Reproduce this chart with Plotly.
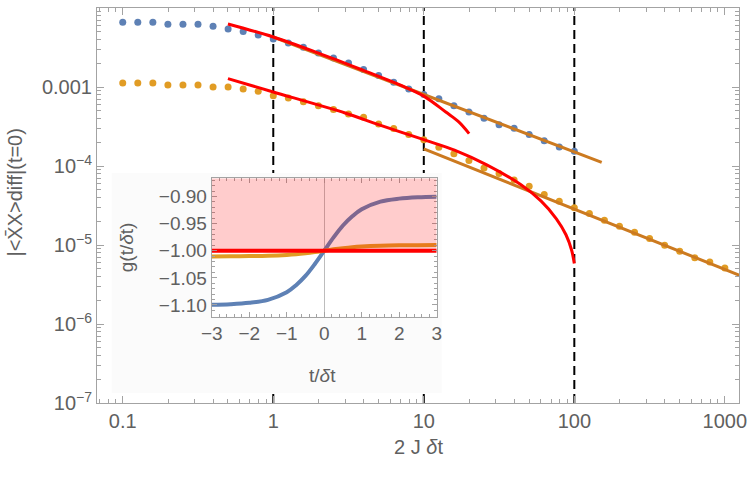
import plotly.graph_objects as go

# ---------------- data ----------------
t_grid = [0.1, 0.1259, 0.1585, 0.1995, 0.2512, 0.3162, 0.3981, 0.5012, 0.6310, 0.7943,
          1.0, 1.259, 1.585, 1.995, 2.512, 3.162, 3.981, 5.012, 6.310, 7.943,
          10.0, 12.59, 15.85, 19.95, 25.12, 31.62, 39.81, 50.12, 63.10, 79.43,
          100.0, 125.9, 158.5, 199.5, 251.2, 316.2, 398.1, 501.2, 631.0, 794.3, 1000.0]

blue_vals = [0.00661, 0.00661, 0.00661, 0.00624, 0.00624, 0.00624, 0.00589, 0.00546, 0.00508, 0.00458,
             0.00407, 0.00362, 0.00319, 0.00271, 0.00234, 0.00202, 0.00167, 0.00140, 0.00115, 0.000948,
             0.000804, 0.000710, 0.000583, 0.000485, 0.000403, 0.000335, 0.000301, 0.000251, 0.000210,
             0.000174, 0.000154]

orange_vals = [0.00113, 0.00113, 0.00113, 0.001066, 0.001066, 0.001066, 0.001006, 0.001006, 0.000948,
               0.000885, 0.000780, 0.000729, 0.000655, 0.000583, 0.000519, 0.000458, 0.000415, 0.000342,
               0.000299, 0.000251, 0.000216, 0.000173, 0.000143, 0.000118, 9.48e-5, 8.03e-5, 6.68e-5,
               5.55e-5, 4.36e-5, 3.58e-5, 2.96e-5, 2.51e-5, 2.06e-5, 1.73e-5, 1.45e-5, 1.21e-5,
               9.93e-6, 8.35e-6, 6.89e-6, 6.12e-6, 5.14e-6]

# short-time (red) curves
red_upper_x = [0.5, 1, 2, 4, 7, 10, 14, 17, 20]
red_upper_y = [0.00631, 0.004315, 0.002692, 0.001618, 0.001059, 0.000769, 0.000483, 0.000366, 0.000258]
red_lower_x = [0.5, 1, 3, 5, 10, 16, 26, 44, 60, 76, 88, 96, 100]
red_lower_y = [0.001282, 0.000869, 0.000471, 0.000335, 0.000216, 0.0001596, 0.0001045, 5.83e-5,
               3.62e-5, 2.15e-5, 1.35e-5, 8.6e-6, 5.83e-6]

# long-time power-law (brown) lines
brown_upper_x = [1, 152]
brown_upper_y = [0.004315, 0.0001117]
brown_lower_x = [10, 1300]
brown_lower_y = [0.0001652, 4.03e-6]

# vertical markers
vlines = [1, 10, 100]

# inset g(t/dt)
g_t = [-3, -2.5, -2, -1.5, -1, -0.75, -0.5, -0.25, 0, 0.25, 0.5, 0.75, 1, 1.5, 2, 2.5, 3]
g_blue = [-1.0995, -1.0985, -1.0960, -1.0905, -1.0765, -1.0635, -1.0465, -1.0245, -1.0,
          -0.9755, -0.9535, -0.9365, -0.9235, -0.9095, -0.9040, -0.9015, -0.9005]
g_orange = [-1.0105, -1.0103, -1.0099, -1.0092, -1.0078, -1.0066, -1.0048, -1.0026, -1.0,
            -0.9974, -0.9952, -0.9934, -0.9922, -0.9908, -0.9901, -0.9898, -0.9896]
g_red_t = [-3, 3]
g_red = [-1.0, -1.0]

# tick labels
x_tickvals = [0.1, 1, 10, 100, 1000]
x_ticktext = ['0.1', '1', '10', '100', '1000']
y_tickvals = [1e-7, 1e-6, 1e-5, 1e-4, 1e-3]
y_ticktext = ['10<sup>\u22127</sup>', '10<sup>\u22126</sup>', '10<sup>\u22125</sup>',
              '10<sup>\u22124</sup>', '0.001']
ix_tickvals = [-3, -2, -1, 0, 1, 2, 3]
ix_ticktext = ['\u22123', '\u22122', '\u22121', '0', '1', '2', '3']
iy_tickvals = [-1.10, -1.05, -1.00, -0.95, -0.90]
iy_ticktext = ['\u22121.10', '\u22121.05', '\u22121.00', '\u22120.95', '\u22120.90']

# ---------------- style ----------------
BLUE = '#5E81B5'
ORANGE = '#E19C24'
BROWN = 'rgb(204,122,32)'
RED = '#FF0000'
FRAME = '#a3a3a3'
TXT = '#606060'
FONT = 'Liberation Sans'

minor_x = [m * 10 ** e for e in range(-2, 4) for m in range(2, 10)]
minor_y = [m * 10 ** e for e in range(-8, -1) for m in range(2, 10)]

fig = go.Figure()

fig.add_trace(go.Scatter(x=t_grid[:len(blue_vals)], y=blue_vals, mode='markers',
                         marker=dict(color=BLUE, size=7), xaxis='x', yaxis='y'))
fig.add_trace(go.Scatter(x=t_grid[:len(orange_vals)], y=orange_vals, mode='markers',
                         marker=dict(color=ORANGE, size=7), xaxis='x', yaxis='y'))
fig.add_trace(go.Scatter(x=brown_upper_x, y=brown_upper_y, mode='lines',
                         line=dict(color=BROWN, width=3), xaxis='x', yaxis='y'))
fig.add_trace(go.Scatter(x=brown_lower_x, y=brown_lower_y, mode='lines',
                         line=dict(color=BROWN, width=3), xaxis='x', yaxis='y'))
fig.add_trace(go.Scatter(x=red_upper_x, y=red_upper_y, mode='lines',
                         line=dict(color=RED, width=3, shape='spline', smoothing=1.0), xaxis='x', yaxis='y'))
fig.add_trace(go.Scatter(x=red_lower_x, y=red_lower_y, mode='lines',
                         line=dict(color=RED, width=3, shape='spline', smoothing=0.8), xaxis='x', yaxis='y'))

# inset traces
fig.add_trace(go.Scatter(x=g_t, y=g_blue, mode='lines',
                         line=dict(color=BLUE, width=4, shape='spline'), xaxis='x2', yaxis='y2'))
fig.add_trace(go.Scatter(x=g_t, y=g_orange, mode='lines',
                         line=dict(color=ORANGE, width=4, shape='spline'), xaxis='x2', yaxis='y2'))
fig.add_trace(go.Scatter(x=g_red_t, y=g_red, mode='lines',
                         line=dict(color=RED, width=4), xaxis='x2', yaxis='y2'))

shapes = []
for v in vlines:
    shapes.append(dict(type='line', xref='x', yref='paper', x0=v, x1=v, y0=0, y1=1,
                       line=dict(color='black', width=2, dash='9px,5px'), layer='below'))
# inset background box (covers the dashed lines)
shapes.append(dict(type='rect', xref='paper', yref='paper', x0=0.0229, x1=0.537, y0=0.0253, y1=0.582,
                   fillcolor='#fbfbfb', line=dict(width=0), layer='below'))
# pink filling above g = -1
shapes.append(dict(type='rect', xref='x2', yref='y2', x0=-3, x1=3, y0=-1.0, y1=-0.8665,
                   fillcolor='rgba(255,0,0,0.2)', line=dict(width=0), layer='above'))

axis_common = dict(showline=True, linecolor=FRAME, linewidth=1, mirror='ticks', ticks='inside',
                   tickcolor=FRAME, showgrid=False, zeroline=False, automargin=False)

fig.update_layout(
    width=750, height=480,
    margin=dict(l=97, r=11, t=8, b=77),
    paper_bgcolor='white', plot_bgcolor='white',
    showlegend=False,
    font=dict(family=FONT, color=TXT, size=20),
    xaxis=dict(type='log', range=[-1.171, 3.094], domain=[0, 1], anchor='y',
               tickmode='array', tickvals=x_tickvals, ticktext=x_ticktext, ticklen=7,
               tickfont=dict(size=20, color=TXT),
               minor=dict(tickmode='array', tickvals=minor_x, ticks='inside', ticklen=4, tickcolor=FRAME),
               **axis_common),
    yaxis=dict(type='log', range=[-7.0, -1.998], domain=[0, 1], anchor='x',
               tickmode='array', tickvals=y_tickvals, ticktext=y_ticktext, ticklen=7,
               tickfont=dict(size=20, color=TXT),
               minor=dict(tickmode='array', tickvals=minor_y, ticks='inside', ticklen=4, tickcolor=FRAME),
               **axis_common),
    xaxis2=dict(range=[-3, 3], domain=[0.1787, 0.5291], anchor='y2',
                tickmode='array', tickvals=ix_tickvals, ticktext=ix_ticktext, ticklen=5,
                tickfont=dict(size=19, color=TXT),
                minor=dict(tickmode='linear', tick0=0, dtick=0.2, ticks='inside', ticklen=3, tickcolor=FRAME),
                showline=True, linecolor=FRAME, linewidth=1, mirror='ticks', ticks='inside',
                tickcolor=FRAME, showgrid=False, zeroline=True, zerolinecolor='#bdbdbd', zerolinewidth=1,
                automargin=False),
    yaxis2=dict(range=[-1.1216, -0.8665], domain=[0.2185, 0.5689], anchor='x2',
                tickmode='array', tickvals=iy_tickvals, ticktext=iy_ticktext, ticklen=5,
                tickfont=dict(size=19, color=TXT),
                minor=dict(tickmode='linear', tick0=0, dtick=0.01, ticks='inside', ticklen=3, tickcolor=FRAME),
                **axis_common),
    shapes=shapes,
    annotations=[
        dict(text='|<X\u0304X>diff|(t=0)', xref='paper', yref='paper', x=-0.127, y=0.534,
             textangle=-90, showarrow=False, xanchor='center', yanchor='middle',
             font=dict(size=20, color=TXT)),
        dict(text='2 J <i>\u03b4</i>t', xref='paper', yref='paper', x=0.5, y=-0.112,
             showarrow=False, xanchor='center', yanchor='middle', font=dict(size=20, color=TXT)),
        dict(text='g(t/<i>\u03b4</i>t)', xref='paper', yref='paper', x=0.0463, y=0.3937,
             textangle=-90, showarrow=False, xanchor='center', yanchor='middle',
             font=dict(size=19, color=TXT)),
        dict(text='t/<i>\u03b4</i>t', xref='paper', yref='paper', x=0.352, y=0.0684,
             showarrow=False, xanchor='center', yanchor='middle', font=dict(size=19, color=TXT)),
    ],
)

fig.write_html('out.html')
